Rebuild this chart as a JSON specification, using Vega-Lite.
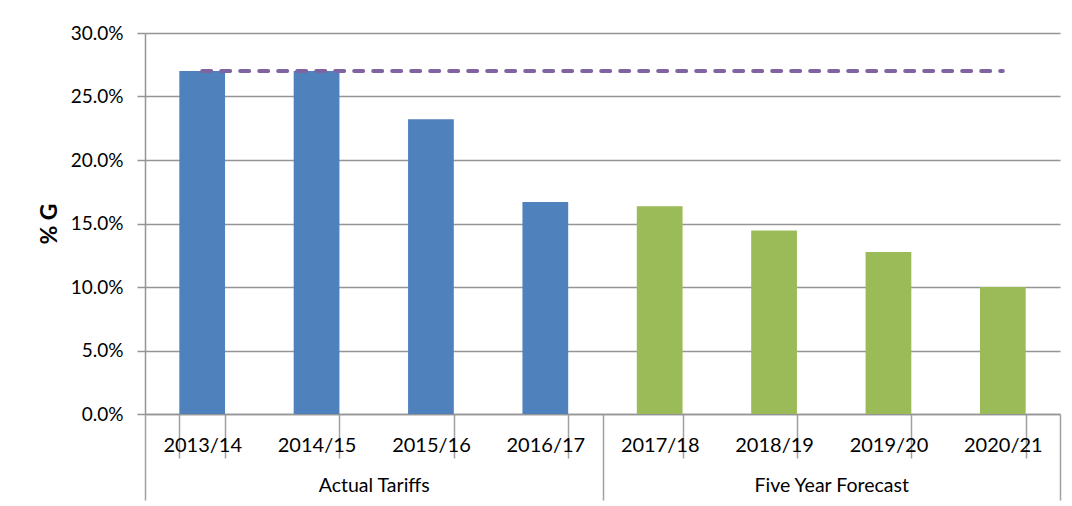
{
  "$schema": "https://vega.github.io/schema/vega-lite/v6.json",
  "width": 915,
  "height": 381,
  "autosize": {"type": "none"},
  "padding": {"left": 145, "top": 33, "right": 12, "bottom": 92},
  "background": "white",
  "config": {
    "view": {"stroke": null},
    "font": "Lato",
    "axis": {"labelFont": "Lato", "titleFont": "Lato", "labelColor": "#000000", "titleColor": "#000000"}
  },
  "data": {
    "values": [
      {"year": "2013/14", "group": "Actual Tariffs", "value": 0.270, "cap": 0.27},
      {"year": "2014/15", "group": "Actual Tariffs", "value": 0.270, "cap": 0.27},
      {"year": "2015/16", "group": "Actual Tariffs", "value": 0.232, "cap": 0.27},
      {"year": "2016/17", "group": "Actual Tariffs", "value": 0.167, "cap": 0.27},
      {"year": "2017/18", "group": "Five Year Forecast", "value": 0.1635, "cap": 0.27},
      {"year": "2018/19", "group": "Five Year Forecast", "value": 0.1445, "cap": 0.27},
      {"year": "2019/20", "group": "Five Year Forecast", "value": 0.1275, "cap": 0.27},
      {"year": "2020/21", "group": "Five Year Forecast", "value": 0.100, "cap": 0.27}
    ]
  },
  "resolve": {"scale": {"x": "independent"}, "axis": {"x": "independent"}},
  "layer": [
    {
      "encoding": {
        "x": {
          "field": "year", "type": "nominal", "sort": null,
          "scale": {"paddingInner": 0.6, "paddingOuter": 0.3},
          "axis": {
            "title": null, "orient": "bottom", "labelAngle": 0,
            "domain": true, "domainColor": "#959595", "domainWidth": 1.5,
            "ticks": true, "tickBand": "extent", "tickSize": 44, "tickColor": "#a0a0a0", "tickWidth": 1.5,
            "labelFontSize": 20, "labelPadding": -23
          }
        }
      },
      "layer": [
        {
          "mark": {"type": "bar"},
          "encoding": {
            "y": {
              "field": "value", "type": "quantitative",
              "scale": {"domain": [0, 0.3], "nice": false},
              "axis": {
                "title": "% G", "titleFontSize": 23, "titleFontWeight": "bold", "titlePadding": 9,
                "values": [0, 0.05, 0.1, 0.15, 0.2, 0.25, 0.3], "format": ".1%",
                "grid": true, "gridColor": "#959595", "gridWidth": 1.5,
                "domain": true, "domainColor": "#959595", "domainWidth": 1.5,
                "tickSize": 8, "tickColor": "#959595", "tickWidth": 1.5,
                "labelFontSize": 19, "labelPadding": 14
              }
            },
            "color": {
              "field": "group", "type": "nominal",
              "scale": {"domain": ["Actual Tariffs", "Five Year Forecast"], "range": ["#4F81BD", "#9BBB59"]},
              "legend": null
            }
          }
        },
        {
          "mark": {"type": "line", "color": "#8064A2", "strokeWidth": 4, "strokeDash": [9, 10], "strokeCap": "round"},
          "encoding": {
            "y": {"field": "cap", "type": "quantitative"}
          }
        }
      ]
    },
    {
      "mark": {"type": "rule", "opacity": 0},
      "encoding": {
        "x": {
          "field": "group", "type": "nominal", "sort": null,
          "scale": {"paddingInner": 0, "paddingOuter": 0},
          "axis": {
            "title": null, "orient": "bottom", "labelAngle": 0, "domain": false,
            "ticks": true, "tickBand": "extent", "tickSize": 86, "tickColor": "#a0a0a0", "tickWidth": 1.5,
            "labelFontSize": 19.5, "labelPadding": -24
          }
        }
      }
    }
  ]
}
